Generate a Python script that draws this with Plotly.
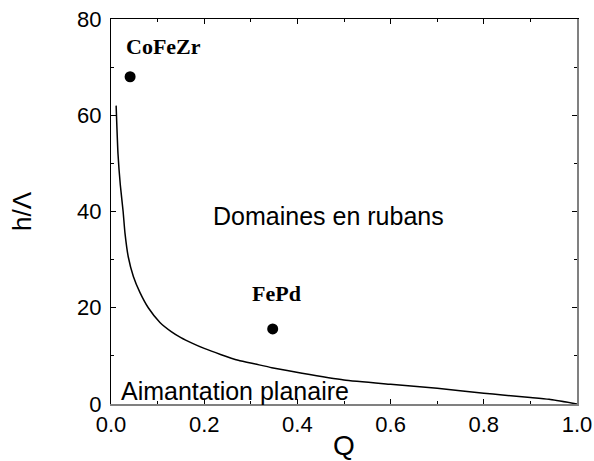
import plotly.graph_objects as go

# Phase boundary curve (critical thickness h/Lambda vs quality factor Q)
Q_curve = [0.011, 0.015, 0.02, 0.026, 0.030, 0.037, 0.048, 0.062, 0.080, 0.105,
           0.13, 0.15, 0.175, 0.20, 0.235, 0.273, 0.31, 0.345, 0.41, 0.50,
           0.60, 0.70, 0.80, 0.84, 0.90, 0.94, 1.0]
h_curve = [62.0, 52.0, 45.5, 40.0, 35.5, 30.6, 26.5, 23.2, 20.0, 16.95,
           15.0, 13.8, 12.6, 11.55, 10.3, 9.1, 8.3, 7.55, 6.4, 5.0,
           4.1, 3.25, 2.25, 1.87, 1.35, 0.97, 0.0]

# Samples
sample_names = ["CoFeZr", "FePd"]
sample_Q = [0.041, 0.347]
sample_h = [68.0, 15.6]
label_Q = [0.112, 0.356]
label_h = [74.3, 23.0]

# Region labels
region_texts = ["Domaines en rubans", "Aimantation planaire"]
region_Q = [0.467, 0.017]
region_h = [39.0, 2.8]

x_ticks = [0.0, 0.2, 0.4, 0.6, 0.8, 1.0]
x_ticklabels = ["0.0", "0.2", "0.4", "0.6", "0.8", "1.0"]
y_ticks = [0, 20, 40, 60, 80]

fig = go.Figure()
fig.add_trace(go.Scatter(x=Q_curve, y=h_curve, mode="lines",
                         line=dict(color="black", width=1.5, shape="spline", smoothing=0.5),
                         showlegend=False, hoverinfo="skip"))
fig.add_trace(go.Scatter(x=sample_Q, y=sample_h, mode="markers",
                         marker=dict(color="black", size=11), showlegend=False))
# empty trace to materialise the mirrored top/right axes
fig.add_trace(go.Scatter(x=[], y=[], xaxis="x2", yaxis="y2", showlegend=False))

for name, qx, hy in zip(sample_names, label_Q, label_h):
    fig.add_annotation(x=qx, y=hy, text="<b>" + name + "</b>", showarrow=False,
                       xanchor="center", yanchor="middle",
                       font=dict(family="Liberation Serif", size=22, color="black"))

fig.add_annotation(x=region_Q[0], y=region_h[0], text=region_texts[0], showarrow=False,
                   xanchor="center", yanchor="middle",
                   font=dict(family="Liberation Sans", size=25, color="black"))
fig.add_annotation(x=region_Q[1], y=region_h[1], text=region_texts[1], showarrow=False,
                   xanchor="left", yanchor="middle",
                   font=dict(family="Liberation Sans", size=25, color="black"))

tickfont = dict(family="Liberation Sans", size=22, color="black")
common = dict(ticks="inside", ticklen=5, tickwidth=1, tickcolor="black",
              showgrid=False, zeroline=False, automargin=False)

fig.update_layout(
    width=594, height=461,
    margin=dict(l=111, r=17, t=19, b=57),
    plot_bgcolor="white", paper_bgcolor="white",
    xaxis=dict(range=[0, 1], tickvals=x_ticks, ticktext=x_ticklabels,
               showline=True, linecolor="#808080", linewidth=2,
               tickfont=tickfont,
               minor=dict(dtick=0.1, ticks="inside", ticklen=3, tickcolor="black"),
               title=dict(text="Q", font=dict(family="Liberation Sans", size=28, color="black"),
                          standoff=0),
               **common),
    yaxis=dict(range=[0, 80], tickvals=y_ticks,
               showline=True, linecolor="black", linewidth=1,
               tickfont=tickfont, ticklabelstandoff=4,
               minor=dict(dtick=10, ticks="inside", ticklen=3, tickcolor="black"),
               title=dict(text="h/Λ", font=dict(family="Liberation Sans", size=26, color="black"),
                          standoff=38),
               **common),
    xaxis2=dict(range=[0, 1], overlaying="x", side="top", anchor="y2",
                tickvals=x_ticks, showticklabels=False,
                showline=True, linecolor="black", linewidth=1,
                minor=dict(dtick=0.1, ticks="inside", ticklen=3, tickcolor="black"),
                **common),
    yaxis2=dict(range=[0, 80], overlaying="y", side="right", anchor="x2",
                tickvals=y_ticks, showticklabels=False,
                showline=True, linecolor="#808080", linewidth=2,
                minor=dict(dtick=10, ticks="inside", ticklen=3, tickcolor="black"),
                **common),
)

fig.write_html("out.html", config={"displayModeBar": False})

# remove the default browser body margin so the figure sits at the page origin
with open("out.html", "r", encoding="utf-8") as f:
    html = f.read()
html = html.replace("<body>", '<body style="margin:0;padding:0;overflow:hidden">', 1)
with open("out.html", "w", encoding="utf-8") as f:
    f.write(html)
